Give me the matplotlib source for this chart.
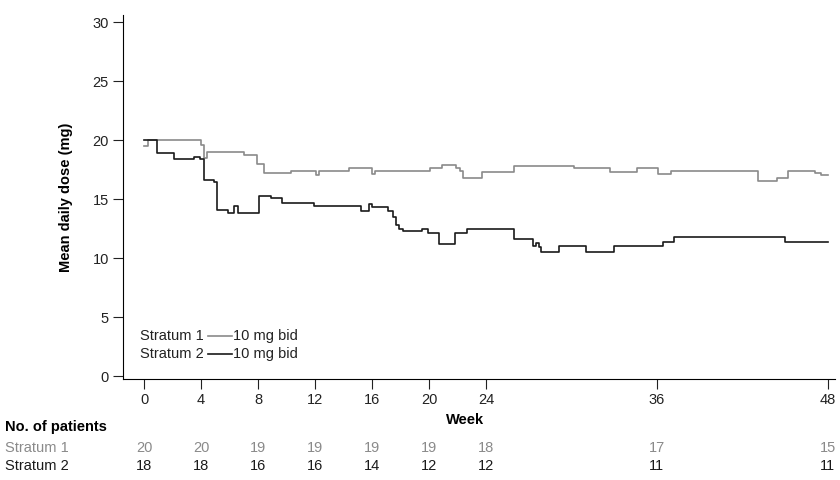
import matplotlib
matplotlib.use("Agg")
import matplotlib.pyplot as plt
plt.rcParams['font.family'] = ['Liberation Sans', 'DejaVu Sans']

s1_x = [0, 0.3, 4.0, 4.2, 4.4, 7.0, 7.9, 8.4, 10.3, 12.1, 12.3, 14.4, 16.0, 16.2, 20.1, 20.9, 21.9, 22.2, 22.4, 23.7, 26.0, 30.2, 32.7, 34.6, 36.1, 37.0, 43.1, 44.4, 45.2, 47.1, 47.5, 48]
s1_y = [19.5, 20.0, 19.6, 18.5, 19.0, 18.7, 18.0, 17.2, 17.4, 17.0, 17.4, 17.6, 17.1, 17.4, 17.6, 17.9, 17.6, 17.4, 16.8, 17.3, 17.8, 17.6, 17.3, 17.6, 17.1, 17.4, 16.5, 16.8, 17.4, 17.2, 17.0, 17.0]
s2_x = [0, 0.9, 2.1, 3.5, 3.9, 4.2, 4.9, 5.1, 5.9, 6.3, 6.6, 7.6, 8.1, 8.9, 9.7, 11.9, 15.2, 15.8, 16.0, 17.1, 17.5, 17.7, 17.9, 18.2, 19.5, 19.9, 20.7, 21.8, 22.7, 26.0, 27.3, 27.5, 27.7, 27.9, 29.1, 31.0, 33.0, 36.4, 37.2, 45.0, 48]
s2_y = [20.0, 18.9, 18.4, 18.6, 18.4, 16.6, 16.45, 14.1, 13.8, 14.4, 13.8, 13.8, 15.3, 15.1, 14.7, 14.4, 14.0, 14.6, 14.3, 14.0, 13.5, 12.8, 12.5, 12.3, 12.5, 12.1, 11.2, 12.1, 12.5, 11.6, 11.0, 11.3, 10.9, 10.5, 11.0, 10.5, 11.0, 11.4, 11.8, 11.4, 11.4]
risk_weeks = [0, 4, 8, 12, 16, 20, 24, 36, 48]
risk_s1 = [20, 20, 19, 19, 19, 19, 18, 17, 15]
risk_s2 = [18, 18, 16, 16, 14, 12, 12, 11, 11]
xticks = [0, 4, 8, 12, 16, 20, 24, 36, 48]
yticks = [0, 5, 10, 15, 20, 25, 30]

GRAY = "#8a8a8a"
BLACK = "#1a1a1a"
FS = 10.5
AX_B, AX_H = 1 - 379 / 480, 364 / 480
fig = plt.figure(figsize=(8.4, 4.8), dpi=100)
ax = fig.add_axes([0.146, AX_B, 0.848, AX_H])
ax.plot(s1_x, s1_y, color=GRAY, lw=1.2, drawstyle="steps-post")
ax.plot(s2_x, s2_y, color=BLACK, lw=1.2, drawstyle="steps-post")
ax.set_xlim(-1.5, 48.5)
ax.set_ylim(-0.25, 30.6)
ax.set_xticks(xticks)
ax.set_yticks(yticks)
ax.tick_params(labelsize=FS, colors="#222222", length=7, pad=3)
for s in ["top", "right"]:
    ax.spines[s].set_visible(False)
ax.set_ylabel("Mean daily dose (mg)", fontsize=FS, fontweight="bold", labelpad=14)
ax.set_xlabel("Week", fontsize=FS, fontweight="bold")
ax.xaxis.set_label_coords(0.48, (480 - 420 - AX_B * 480) / (AX_H * 480))
ax.xaxis.label.set_va("center")

# legend
for i, (lab, col) in enumerate([("Stratum 1", GRAY), ("Stratum 2", BLACK)]):
    yy = 3.4 - i * 1.55
    ax.text(-0.3, yy, lab, fontsize=FS, color="#222222", va="center", ha="left")
    ax.plot([4.5, 6.2], [yy, yy], color=col, lw=1.2)
    ax.text(6.25, yy, "10 mg bid", fontsize=FS, color="#222222", va="center")

fig.text(0.006, 1 - 427 / 480, "No. of patients", fontsize=FS, fontweight="bold", va="center")
for lab, vals, col, ypx in [("Stratum 1", risk_s1, GRAY, 448), ("Stratum 2", risk_s2, BLACK, 466)]:
    fig.text(0.006, 1 - ypx / 480, lab, fontsize=FS, color=col, va="center")
    yax = (480 - ypx - AX_B * 480) / (AX_H * 480)
    for w, v in zip(risk_weeks, vals):
        ax.text(w, yax, str(v), fontsize=FS, color=col, ha="center", va="center",
                transform=ax.get_xaxis_transform(), clip_on=False)

fig.savefig("out.png")
